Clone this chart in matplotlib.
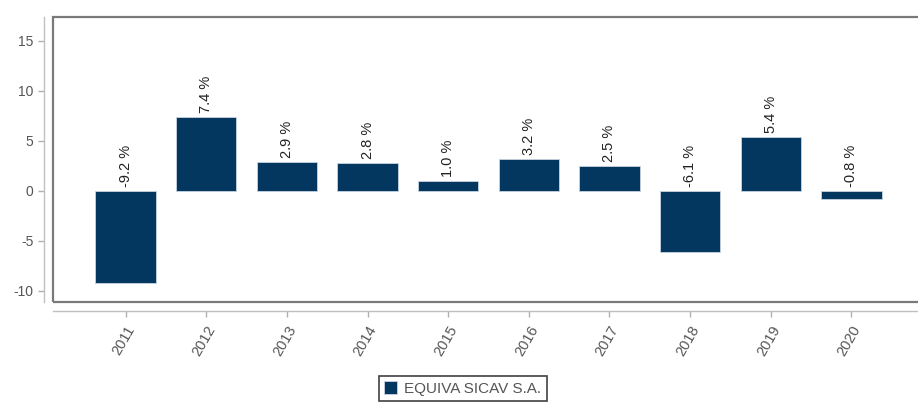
import matplotlib
matplotlib.use("Agg")
import matplotlib.pyplot as plt
from matplotlib.patches import Rectangle

years = ["2011", "2012", "2013", "2014", "2015", "2016", "2017", "2018", "2019", "2020"]
returns = [-9.2, 7.4, 2.9, 2.8, 1.0, 3.2, 2.5, -6.1, 5.4, -0.8]
series_name = "EQUIVA SICAV S.A."
y_ticks = [-10, -5, 0, 5, 10, 15]

plt.rcParams['font.family'] = ['Liberation Sans', 'DejaVu Sans']
plt.rcParams['axes.unicode_minus'] = False

W, H = 918, 403
fig = plt.figure(figsize=(W / 100, H / 100), dpi=100)
left, right, top, bottom = 53, 928, 17, 302
ax = fig.add_axes([left / W, 1 - bottom / H, (right - left) / W, (bottom - top) / H])

for s in ["top", "right"]:
    ax.spines[s].set_visible(False)
for s in ["left", "bottom"]:
    ax.spines[s].set_position(("outward", 6.5))
    ax.spines[s].set_color("#c0c0c0")
    ax.spines[s].set_linewidth(1.0)

bar_color = "#03375f"
x = list(range(len(years)))
ax.bar(x, returns, width=0.75, color=bar_color, edgecolor="#c8d4e0", linewidth=0.6, zorder=2)

for xi, v in zip(x, returns):
    ax.annotate(f"{v:.1f} %", xy=(xi, max(v, 0)), xytext=(0, 3), textcoords="offset points",
                rotation=90, ha="center", va="bottom", fontsize=10.5, color="#222222")

ax.set_xlim(-0.9, 9.95)
ax.set_ylim(-11.1, 17.4)
ax.set_yticks(y_ticks)
ax.set_xticks(x)
ax.set_xticklabels(years, rotation=60, ha="right", rotation_mode="anchor", fontsize=10.5)

ax.tick_params(axis="both", colors="#b0b0b0", labelcolor="#555555", length=4, width=1.0)
ax.tick_params(axis="y", labelsize=10)
ax.tick_params(axis="x", pad=5)

ax.add_patch(Rectangle((0, 0), 1, 1, transform=ax.transAxes, fill=False,
                       edgecolor="#7a7a7a", linewidth=1.6, clip_on=False, zorder=3))

handle = Rectangle((0, 0), 1, 1, facecolor=bar_color, edgecolor="#c8d4e0", linewidth=0.6)
leg = fig.legend([handle], [series_name], loc="upper left",
                 bbox_to_anchor=(379 / W, 1 - 376 / H), frameon=True, fancybox=False,
                 fontsize=11, handlelength=0.8, handleheight=0.9, handletextpad=0.5,
                 borderpad=0.35, borderaxespad=0, labelcolor="#555555")
leg.get_frame().set_edgecolor("#111111")
leg.get_frame().set_linewidth(1.2)

fig.savefig("out.png", dpi=100)
